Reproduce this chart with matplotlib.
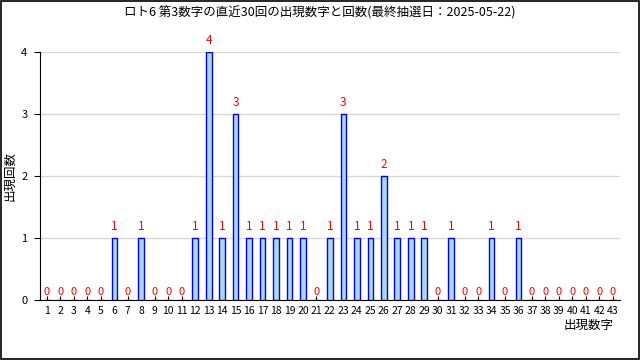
import matplotlib
matplotlib.use('Agg')
import numpy as np
import matplotlib.pyplot as plt
from matplotlib.patches import Rectangle

plt.rcParams['font.family'] = ['Noto Sans CJK JP', 'DejaVu Sans']

# データ
numbers = list(range(1, 44))
hit_nums = [6, 8, 12, 13, 14, 15, 16, 17, 18, 19, 20, 22, 23, 24, 25, 26, 27, 28, 29, 31, 34, 36]
hit_cnts = [1, 1, 1, 4, 1, 3, 1, 1, 1, 1, 1, 1, 3, 1, 1, 2, 1, 1, 1, 1, 1, 1]
counts = [hit_cnts[hit_nums.index(n)] if n in hit_nums else 0 for n in numbers]
title = "ロト6 第3数字の直近30回の出現数字と回数(最終抽選日：2025-05-22)"

fig = plt.figure(figsize=(6.4, 3.6), dpi=100)
ax = fig.add_axes([0.0625, 0.1667, 0.906, 0.689])

ax.bar(numbers, counts, width=0.42, color='lightblue', edgecolor='blue', linewidth=1, zorder=3)
for n, c in zip(numbers, counts):
    if c > 0:
        ax.text(n, c + 0.08, str(c), color='red', ha='center', va='bottom', fontsize=8.5, clip_on=False)
    else:
        ax.text(n, 0.05, '0', color='red', ha='center', va='bottom', fontsize=8)

ax.set_xlim(0.48, 43.52)
ax.set_ylim(0, 4)
ax.set_xticks(numbers)
ax.set_xticklabels([str(n) for n in numbers], fontsize=7.5)
ax.set_yticks([0, 1, 2, 3, 4])
ax.tick_params(axis='y', labelsize=8, length=4, pad=5)
ax.tick_params(axis='x', direction='in', length=3, pad=4)
ax.yaxis.grid(True, color='#d8d8d8', linewidth=1, zorder=0)
ax.spines['top'].set_visible(False)
ax.spines['right'].set_visible(False)

ax.set_ylabel("出現回数", fontsize=9)
ax.yaxis.set_label_coords(-0.04, 0.5)
fig.text(0.958, 0.097, "出現数字", ha='right', va='center', fontsize=9)
fig.text(0.5, 0.965, title, ha='center', va='center', fontsize=9)

fig.patches.append(Rectangle((0.001, 0.002), 0.997, 0.995, transform=fig.transFigure,
                             fill=False, edgecolor='black', linewidth=1.2))

plt.savefig('out.png', dpi=100)
plt.close()
